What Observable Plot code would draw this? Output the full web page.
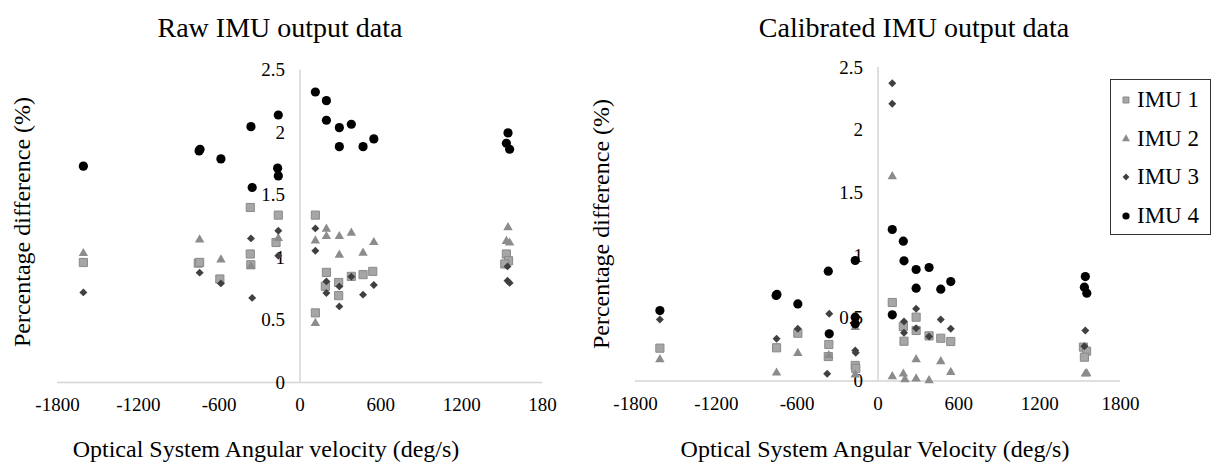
<!DOCTYPE html>
<html><head><meta charset="utf-8">
<script src="https://cdn.jsdelivr.net/npm/d3@7"></script>
<script src="https://cdn.jsdelivr.net/npm/@observablehq/plot@0.6"></script>
<style>
body{margin:0;background:#fff;}
#wrap{position:relative;width:1226px;height:468px;overflow:hidden;font-family:'Liberation Serif','Times New Roman',serif;color:#000;background:#fff;}
.panel{position:absolute;top:0;}
.t{position:absolute;white-space:nowrap;line-height:1;}
.legend{position:absolute;left:1110px;top:79px;width:99px;height:154px;border:1.5px solid #333;background:#fff;}
.li{position:absolute;left:0;height:24px;line-height:24px;font-size:23px;white-space:nowrap;}
.li svg{position:absolute;left:9px;top:6px;}
.li span{position:absolute;left:26px;top:0;}
</style></head><body><div id="wrap"></div>
<script>
// ---- axis ticks ----
const xTicks = [-1800, -1200, -600, 0, 600, 1200, 1800];
const xTickLabelsRaw = ["-1800", "-1200", "-600", "0", "600", "1200", "180"];
const xTickLabelsCal = ["-1800", "-1200", "-600", "0", "600", "1200", "1800"];
const yTicks = [0, 0.5, 1, 1.5, 2, 2.5];
const yTickLabels = ["0", "0.5", "1", "1.5", "2", "2.5"];
const seriesNames = ["IMU 1", "IMU 2", "IMU 3", "IMU 4"];

// ---- Raw IMU output data: [angular velocity (deg/s), percentage difference (%)] ----
const rawIMU1 = [[-1608,0.96],[-755,0.955],[-745,0.961],[-595,0.828],[-369,1.40],[-369,1.028],[-365,0.942],[-161,1.339],[-178,1.12],[114,1.339],[114,0.557],[196,0.881],[188,0.77],[287,0.80],[287,0.695],[381,0.849],[468,0.863],[540,0.889],[1532,1.028],[1548,0.974],[1520,0.948]];
const rawIMU2 = [[-1608,1.033],[-745,1.142],[-587,0.982],[-364,0.929],[-161,1.153],[114,1.134],[114,0.474],[196,1.228],[196,1.169],[292,1.169],[292,1.02],[381,1.196],[468,1.036],[548,1.121],[1544,1.24],[1532,1.13],[1556,1.117]];
const rawIMU3 = [[-1608,0.721],[-745,0.879],[-587,0.793],[-364,1.153],[-355,0.677],[-161,1.214],[-161,1.014],[114,1.233],[114,1.054],[196,0.809],[196,0.716],[292,0.769],[292,0.609],[381,0.847],[468,0.703],[548,0.780],[1540,0.929],[1540,0.815],[1556,0.797]];
const rawIMU4 = [[-1608,1.731],[-749,1.853],[-742,1.866],[-587,1.789],[-364,2.047],[-355,1.56],[-161,2.14],[-166,1.715],[-161,1.653],[114,2.324],[196,2.255],[196,2.098],[292,2.039],[292,1.887],[381,2.066],[468,1.887],[548,1.949],[1544,1.997],[1532,1.914],[1556,1.866]];

// ---- Calibrated IMU output data ----
const calIMU1 = [[-1619,0.262],[-753,0.265],[-595,0.381],[-365,0.291],[-369,0.195],[-169,0.124],[-165,0.10],[106,0.626],[188,0.435],[193,0.317],[283,0.509],[283,0.403],[379,0.36],[466,0.341],[540,0.315],[1525,0.27],[1548,0.238],[1532,0.19]];
const calIMU2 = [[-1619,0.171],[-753,0.065],[-595,0.222],[-365,0.203],[-169,0.429],[-169,0.05],[106,1.631],[106,0.036],[188,0.057],[200,0.012],[283,0.171],[283,0.018],[379,0.004],[466,0.156],[540,0.07],[1539,0.057],[1550,0.06]];
const calIMU3 = [[-1619,0.49],[-753,0.336],[-595,0.416],[-362,0.536],[-377,0.057],[-169,0.243],[-165,0.225],[106,2.375],[106,2.21],[193,0.474],[193,0.384],[283,0.576],[283,0.421],[379,0.355],[466,0.49],[540,0.416],[1539,0.403],[1532,0.278]];
const calIMU4 = [[-1619,0.562],[-756,0.682],[-750,0.69],[-595,0.615],[-369,0.876],[-362,0.376],[-169,0.961],[-169,0.509],[-169,0.456],[106,1.208],[106,0.528],[188,1.115],[193,0.958],[283,0.889],[283,0.74],[379,0.905],[466,0.732],[540,0.793],[1539,0.833],[1532,0.748],[1550,0.70]];

// ---- marker styles ----
const styles = [
  {symbol: "square", r: 4.6, fill: "#a6a6a6", stroke: "#8a8a8a", strokeWidth: 1},
  {symbol: "triangle", r: 3.5, fill: "#8c8c8c", stroke: "none"},
  {symbol: "diamond2", r: 3.6, fill: "#404040", stroke: "none"},
  {symbol: "circle", r: 4.6, fill: "#000", stroke: "none"}
];

const yLabelMap = new Map(yTicks.map((t, i) => [t, yTickLabels[i]]));

function panel(series, tickLabels, m) {
  const xLabelMap = new Map(xTicks.map((t, i) => [t, tickLabels[i]]));
  const marks = [
    Plot.ruleY([0], {x1: -1800, x2: 1800, stroke: "#d4d4d4", strokeWidth: 1.5}),
    Plot.ruleX([0], {y1: 0, y2: 2.5, stroke: "#d4d4d4", strokeWidth: 1.5}),
    Plot.axisX({ticks: xTicks, tickFormat: d => xLabelMap.get(d), tickSize: 0, tickPadding: 15, fontSize: 19, label: null, fill: "#000"}),
    Plot.text(yTicks, {x: 0, y: d => d, text: d => yLabelMap.get(d), dx: -15, textAnchor: "end", fontSize: 19, fill: "#000"})
  ];
  series.forEach((s, k) => {
    marks.push(Plot.dot(s, {x: d => d[0], y: d => d[1], ...styles[k]}));
  });
  return Plot.plot({
    width: m.width, height: 468,
    marginLeft: m.left, marginRight: m.right, marginTop: m.top, marginBottom: m.bottom,
    x: {domain: [-1800, 1800], axis: null},
    y: {domain: [0, 2.5], axis: null},
    style: {fontFamily: "'Liberation Serif','Times New Roman',serif", fontSize: "19px", color: "#000", background: "transparent", overflow: "visible"},
    marks
  });
}

const wrap = document.getElementById("wrap");

const left = panel([rawIMU1, rawIMU2, rawIMU3, rawIMU4], xTickLabelsRaw, {width: 613, left: 57, right: 71, top: 69.5, bottom: 86});
left.classList.add("panel"); left.style.left = "0px";
wrap.appendChild(left);

const right = panel([calIMU1, calIMU2, calIMU3, calIMU4], xTickLabelsCal, {width: 613, left: 22, right: 106, top: 67, bottom: 87.5});
right.classList.add("panel"); right.style.left = "613px";
wrap.appendChild(right);

// ---- titles ----
function addText(txt, cx, cy, size, rotate) {
  const d = document.createElement("div");
  d.className = "t";
  d.textContent = txt;
  d.style.fontSize = size + "px";
  d.style.left = cx + "px";
  d.style.top = cy + "px";
  d.style.transform = "translate(-50%,-50%)" + (rotate ? " rotate(-90deg)" : "");
  wrap.appendChild(d);
}
addText("Raw IMU output data", 280, 28, 28);
addText("Calibrated IMU output data", 914, 28, 28);
addText("Percentage difference (%)", 22, 222, 24, true);
addText("Percentage difference (%)", 601, 224, 24, true);
addText("Optical System Angular velocity (deg/s)", 266, 449, 24);
addText("Optical System Angular Velocity (deg/s)", 875, 449, 24);

// ---- legend ----
const leg = document.createElement("div");
leg.className = "legend";
seriesNames.forEach((name, k) => {
  const item = document.createElement("div");
  item.className = "li";
  item.style.top = (8 + k * 38.5) + "px";
  const st = styles[k];
  const symType = {square: d3.symbolSquare, triangle: d3.symbolTriangle, diamond2: d3.symbolDiamond2, circle: d3.symbolCircle}[st.symbol];
  const rr = k === 0 ? 3.4 : k === 3 ? 3.6 : st.r * 0.85;
  const path = d3.symbol(symType, Math.PI * rr * rr)();
  item.innerHTML = `<svg width="12" height="12" viewBox="-6 -6 12 12"><path d="${path}" fill="${st.fill}" stroke="${st.stroke}" stroke-width="${st.strokeWidth || 0}"/></svg><span>${name}</span>`;
  leg.appendChild(item);
});
wrap.appendChild(leg);
</script></body></html>
